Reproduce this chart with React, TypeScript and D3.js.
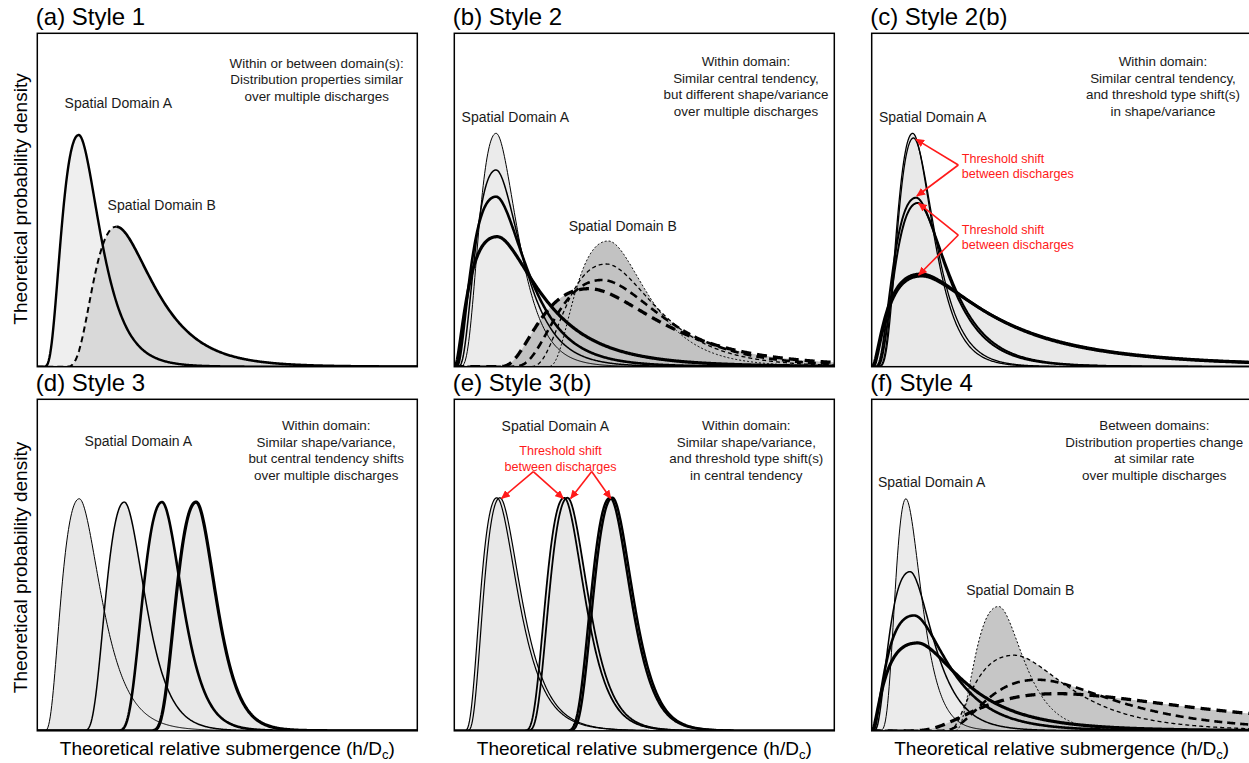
import React from "react";
import * as d3 from "d3";

type Curve = { start: number; mode: number; peak: number; halfL: number; halfR: number };
type LineStyle = { width: number; dash?: string };

// ---------------- data: x = relative submergence units, y = relative density ----------------
const panelA_domainA: Curve[] = [{ start: 0.11, mode: 1.09, peak: 0.695, halfL: 0.5, halfR: 0.66 }];
const panelA_domainB: Curve[] = [{ start: 0.6, mode: 2.08, peak: 0.42, halfL: 0.68, halfR: 1.16 }];

const panelB_domainA: Curve[] = [
  { start: 0.05, mode: 1.1, peak: 0.7, halfL: 0.5, halfR: 0.66 },
  { start: 0.05, mode: 1.1, peak: 0.59, halfL: 0.6, halfR: 0.79 },
  { start: 0.03, mode: 1.1, peak: 0.51, halfL: 0.71, halfR: 0.95 },
  { start: 0, mode: 1.13, peak: 0.39, halfL: 0.82, halfR: 1.32 },
];
const panelB_domainB: Curve[] = [
  { start: 2.37, mode: 4.05, peak: 0.377, halfL: 0.95, halfR: 1.21 },
  { start: 1.84, mode: 4.0, peak: 0.308, halfL: 1.16, halfR: 1.53 },
  { start: 1.32, mode: 3.89, peak: 0.26, halfL: 1.32, halfR: 1.84 },
  { start: 1.05, mode: 3.55, peak: 0.234, halfL: 1.42, halfR: 2.16 },
];

const panelC_domainA: Curve[] = [
  { start: 0.05, mode: 1.08, peak: 0.7, halfL: 0.47, halfR: 0.63 },
  { start: 0.08, mode: 1.1, peak: 0.686, halfL: 0.47, halfR: 0.66 },
  { start: 0.05, mode: 1.17, peak: 0.507, halfL: 0.66, halfR: 0.92 },
  { start: 0.08, mode: 1.21, peak: 0.491, halfL: 0.66, halfR: 0.95 },
  { start: 0, mode: 1.3, peak: 0.278, halfL: 0.97, halfR: 2.1 },
  { start: 0.03, mode: 1.32, peak: 0.272, halfL: 0.97, halfR: 2.15 },
];

const panelD_domainA: Curve[] = [
  { start: 0.13, mode: 1.105, peak: 0.7, halfL: 0.52, halfR: 0.68 },
  { start: 1.08, mode: 2.29, peak: 0.69, halfL: 0.54, halfR: 0.64 },
  { start: 1.92, mode: 3.28, peak: 0.69, halfL: 0.56, halfR: 0.62 },
  { start: 2.84, mode: 4.18, peak: 0.69, halfL: 0.58, halfR: 0.61 },
];

const panelE_domainA: Curve[] = [
  { start: 0.2, mode: 1.12, peak: 0.703, halfL: 0.47, halfR: 0.66 },
  { start: 0.27, mode: 1.2, peak: 0.703, halfL: 0.47, halfR: 0.66 },
  { start: 1.71, mode: 2.89, peak: 0.703, halfL: 0.53, halfR: 0.63 },
  { start: 1.79, mode: 2.98, peak: 0.703, halfL: 0.53, halfR: 0.63 },
  { start: 2.76, mode: 4.1, peak: 0.703, halfL: 0.55, halfR: 0.63 },
  { start: 2.82, mode: 4.16, peak: 0.703, halfL: 0.55, halfR: 0.63 },
];

const panelF_domainA: Curve[] = [
  { start: 0.05, mode: 0.9, peak: 0.7, halfL: 0.32, halfR: 0.48 },
  { start: 0.03, mode: 1.01, peak: 0.48, halfL: 0.6, halfR: 0.71 },
  { start: 0.02, mode: 1.12, peak: 0.348, halfL: 0.79, halfR: 1.05 },
  { start: 0, mode: 1.21, peak: 0.265, halfL: 0.92, halfR: 1.39 },
];
const panelF_domainB: Curve[] = [
  { start: 2.1, mode: 3.34, peak: 0.375, halfL: 0.68, halfR: 0.76 },
  { start: 1.97, mode: 3.76, peak: 0.228, halfL: 1.16, halfR: 1.66 },
  { start: 1.58, mode: 4.37, peak: 0.154, halfL: 1.5, halfR: 2.45 },
  { start: 0.79, mode: 4.9, peak: 0.112, halfL: 2.29, halfR: 4.7 },
];

// arrows (data units) pointing at threshold shifts
const panelC_arrows: [number, number, number, number][] = [
  [2.28, 0.605, 1.166, 0.682],
  [2.28, 0.605, 1.19, 0.512],
  [2.28, 0.395, 1.237, 0.49],
  [2.28, 0.395, 1.237, 0.275],
];
const panelE_arrows: [number, number, number, number][] = [
  [2.08, 0.782, 1.247, 0.701],
  [2.08, 0.782, 2.868, 0.701],
  [3.616, 0.782, 3.063, 0.701],
  [3.616, 0.782, 4.116, 0.701],
];

// texts
const titles = ["(a) Style 1", "(b) Style 2", "(c) Style 2(b)", "(d) Style 3", "(e) Style 3(b)", "(f) Style 4"];
const notesA = ["Within or between domain(s):", "Distribution properties similar", "over multiple discharges"];
const notesB = ["Within domain:", "Similar central tendency,", "but different shape/variance", "over multiple discharges"];
const notesC = ["Within domain:", "Similar central tendency,", "and threshold type shift(s)", "in shape/variance"];
const notesD = ["Within domain:", "Similar shape/variance,", "but central tendency shifts", "over multiple discharges"];
const notesE = ["Within domain:", "Similar shape/variance,", "and threshold type shift(s)", "in central tendency"];
const notesF = ["Between domains:", "Distribution properties change", "at similar rate", "over multiple discharges"];
const redNote = ["Threshold shift", "between discharges"];
const domainA = "Spatial Domain A";
const domainB = "Spatial Domain B";
const yLabel = "Theoretical probability density";
const xLabel = "Theoretical relative submergence (h/D";

// ---------------- styles ----------------
const solidRamp: LineStyle[] = [{ width: 1 }, { width: 1.5 }, { width: 2.6 }, { width: 3.2 }];
const dashRamp: LineStyle[] = [
  { width: 1, dash: "2,2" },
  { width: 1.3, dash: "4,3" },
  { width: 2.6, dash: "8,5" },
  { width: 3.3, dash: "10,6" },
];
const pairsC: LineStyle[] = [{ width: 1.3 }, { width: 1.3 }, { width: 2 }, { width: 2 }, { width: 3 }, { width: 3 }];
const pairsE: LineStyle[] = [{ width: 1.2 }, { width: 1.2 }, { width: 1.8 }, { width: 1.8 }, { width: 2.4 }, { width: 2.4 }];

const FONT = "'Liberation Sans', Arial, Helvetica, sans-serif";
const W = 380;
const COLS = [37.3, 454.3, 871.7];
const ROWS = [
  { top: 33.3, bottom: 366.7 },
  { top: 399.3, bottom: 730.8 },
];
const X_DOMAIN: [number, number] = [0, 10];
const Y_DOMAIN: [number, number] = [0, 1];
const SAMPLES = d3.range(0, 10.0001, 0.02);
const K = Math.sqrt(2 * Math.LN2);

function density(x: number, c: Curve): number {
  const t = x - c.start;
  if (t <= 0) return 0;
  const tm = c.mode - c.start;
  const u = Math.log(t / tm);
  const s = t < tm ? -Math.log((tm - c.halfL) / tm) / K : Math.log((tm + c.halfR) / tm) / K;
  return c.peak * Math.exp(-(u * u) / (2 * s * s));
}

type Group = { curves: Curve[]; fill: string; styles: LineStyle[]; split?: boolean };
type Txt = { text: string; x: number; y: number };

type PanelProps = {
  id: string;
  col: number;
  row: number;
  title: string;
  groups: Group[];
  labels: Txt[];
  notes: string[];
  notesX: number;
  notesY: number;
  red?: { x: number; y: number; anchor: string }[];
  arrows?: [number, number, number, number][];
};

function Panel(p: PanelProps) {
  const left = COLS[p.col];
  const { top, bottom } = ROWS[p.row];
  const xs = d3.scaleLinear().domain(X_DOMAIN).range([left, left + W]);
  const ys = d3.scaleLinear().domain(Y_DOMAIN).range([bottom, top]);
  const line = (c: Curve, pts: number[]) =>
    d3
      .line<number>()
      .x((d) => xs(d))
      .y((d) => ys(density(d, c)))(pts) || "";
  const area = (cs: Curve[]) =>
    d3
      .area<number>()
      .x((d) => xs(d))
      .y0(ys(0))
      .y1((d) => ys(d3.max(cs, (c) => density(d, c)) || 0))(SAMPLES) || "";

  return (
    <g>
      <defs>
        <clipPath id={p.id}>
          <rect x={left} y={top} width={W} height={bottom - top} />
        </clipPath>
      </defs>
      <text x={left - 1.5} y={top - 8} fontSize={24} fontFamily={FONT} fill="#000">
        {p.title}
      </text>
      <g clipPath={`url(#${p.id})`}>
        {p.groups.map((g, gi) => (
          <path key={"f" + gi} d={area(g.curves)} fill={g.fill} stroke="none" />
        ))}
        {p.groups.map((g, gi) =>
          g.curves.map((c, ci) => {
            const st = g.styles[ci];
            if (g.split) {
              const l = SAMPLES.filter((d) => d <= c.mode);
              const r = SAMPLES.filter((d) => d >= c.mode);
              return (
                <g key={"l" + gi + "_" + ci}>
                  <path d={line(c, l)} fill="none" stroke="#000" strokeWidth={2} strokeDasharray="6,4" />
                  <path d={line(c, r)} fill="none" stroke="#000" strokeWidth={st.width} />
                </g>
              );
            }
            return (
              <path
                key={"l" + gi + "_" + ci}
                d={line(c, SAMPLES)}
                fill="none"
                stroke="#000"
                strokeWidth={st.width}
                strokeDasharray={st.dash}
                strokeLinejoin="round"
              />
            );
          })
        )}
      </g>
      <rect x={left} y={top} width={W} height={bottom - top} fill="none" stroke="#000" strokeWidth={1.5} />
      {p.labels.map((t, i) => (
        <text key={"t" + i} x={left + t.x} y={top + t.y} fontSize={14} fontFamily={FONT} textAnchor="middle" fill="#1a1a1a">
          {t.text}
        </text>
      ))}
      <text fontSize={13.4} fontFamily={FONT} textAnchor="middle" fill="#1a1a1a">
        {p.notes.map((n, i) => (
          <tspan key={i} x={left + p.notesX} y={top + p.notesY + i * 16.6}>
            {n}
          </tspan>
        ))}
      </text>
      {p.red &&
        p.red.map((r, ri) => (
          <text key={"r" + ri} fontSize={12.6} fontFamily={FONT} textAnchor={r.anchor} fill="#ff1a1a">
            {redNote.map((n, i) => (
              <tspan key={i} x={left + r.x} y={top + r.y + i * 15.5}>
                {n}
              </tspan>
            ))}
          </text>
        ))}
      {p.arrows &&
        p.arrows.map((a, ai) => (
          <line
            key={"a" + ai}
            x1={xs(a[0])}
            y1={ys(a[1])}
            x2={xs(a[2])}
            y2={ys(a[3])}
            stroke="#ff1a1a"
            strokeWidth={1.6}
            markerEnd="url(#redArrow)"
          />
        ))}
    </g>
  );
}

export default function App() {
  const yCenters = [199, 567.5];
  return (
    <svg
      width={1249}
      height={763}
      style={{ position: "absolute", left: 0, top: 0, background: "#fff" }}
      xmlns="http://www.w3.org/2000/svg"
    >
      <defs>
        <marker
          id="redArrow"
          markerUnits="userSpaceOnUse"
          markerWidth={9}
          markerHeight={8}
          refX={8}
          refY={4}
          orient="auto"
        >
          <path d="M0,0 L9,4 L0,8 Z" fill="#ff1a1a" />
        </marker>
      </defs>
      <rect x={0} y={0} width={1249} height={763} fill="#fff" />

      <Panel
        id="pa"
        col={0}
        row={0}
        title={titles[0]}
        groups={[
          { curves: panelA_domainA, fill: "#efefef", styles: [{ width: 2.4 }] },
          { curves: panelA_domainB, fill: "#d9d9d9", styles: [{ width: 2.6 }], split: true },
        ]}
        labels={[
          { text: domainA, x: 81, y: 74.7 },
          { text: domainB, x: 124.4, y: 176.7 },
        ]}
        notes={notesA}
        notesX={279.4}
        notesY={34.3}
      />
      <Panel
        id="pb"
        col={1}
        row={0}
        title={titles[1]}
        groups={[
          { curves: panelB_domainA, fill: "#ebebeb", styles: solidRamp },
          { curves: panelB_domainB, fill: "#c2c2c2", styles: dashRamp },
        ]}
        labels={[
          { text: domainA, x: 61, y: 88.4 },
          { text: domainB, x: 168.5, y: 197.4 },
        ]}
        notes={notesB}
        notesX={291.7}
        notesY={32.7}
      />
      <Panel
        id="pc"
        col={2}
        row={0}
        title={titles[2]}
        groups={[{ curves: panelC_domainA, fill: "#e9e9e9", styles: pairsC }]}
        labels={[{ text: domainA, x: 61, y: 88.4 }]}
        notes={notesC}
        notesX={291.3}
        notesY={32.7}
        red={[
          { x: 90, y: 129.5, anchor: "start" },
          { x: 90, y: 200.5, anchor: "start" },
        ]}
        arrows={panelC_arrows}
      />
      <Panel
        id="pd"
        col={0}
        row={1}
        title={titles[3]}
        groups={[{ curves: panelD_domainA, fill: "#e8e8e8", styles: solidRamp }]}
        labels={[{ text: domainA, x: 101, y: 46.7 }]}
        notes={notesD}
        notesX={288.9}
        notesY={30.7}
      />
      <Panel
        id="pe"
        col={1}
        row={1}
        title={titles[4]}
        groups={[{ curves: panelE_domainA, fill: "#e8e8e8", styles: pairsE }]}
        labels={[{ text: domainA, x: 101, y: 31.4 }]}
        notes={notesE}
        notesX={292}
        notesY={30.7}
        red={[{ x: 106.2, y: 55.7, anchor: "middle" }]}
        arrows={panelE_arrows}
      />
      <Panel
        id="pf"
        col={2}
        row={1}
        title={titles[5]}
        groups={[
          { curves: panelF_domainA, fill: "#ebebeb", styles: solidRamp },
          { curves: panelF_domainB, fill: "#c6c6c6", styles: dashRamp },
        ]}
        labels={[
          { text: domainA, x: 60, y: 88 },
          { text: domainB, x: 148.6, y: 195.7 },
        ]}
        notes={notesF}
        notesX={282.6}
        notesY={30.7}
      />

      {yCenters.map((cy, i) => (
        <text
          key={"yl" + i}
          transform={`translate(27,${cy}) rotate(-90)`}
          textAnchor="middle"
          fontSize={19}
          fontFamily={FONT}
          fill="#000"
        >
          {yLabel}
        </text>
      ))}
      {COLS.map((cx, i) => (
        <text key={"xl" + i} x={cx + W / 2} y={755} textAnchor="middle" fontSize={19} fontFamily={FONT} fill="#000">
          {xLabel}
          <tspan fontSize={13} dy={4}>
            c
          </tspan>
          <tspan dy={-4}>)</tspan>
        </text>
      ))}
    </svg>
  );
}
